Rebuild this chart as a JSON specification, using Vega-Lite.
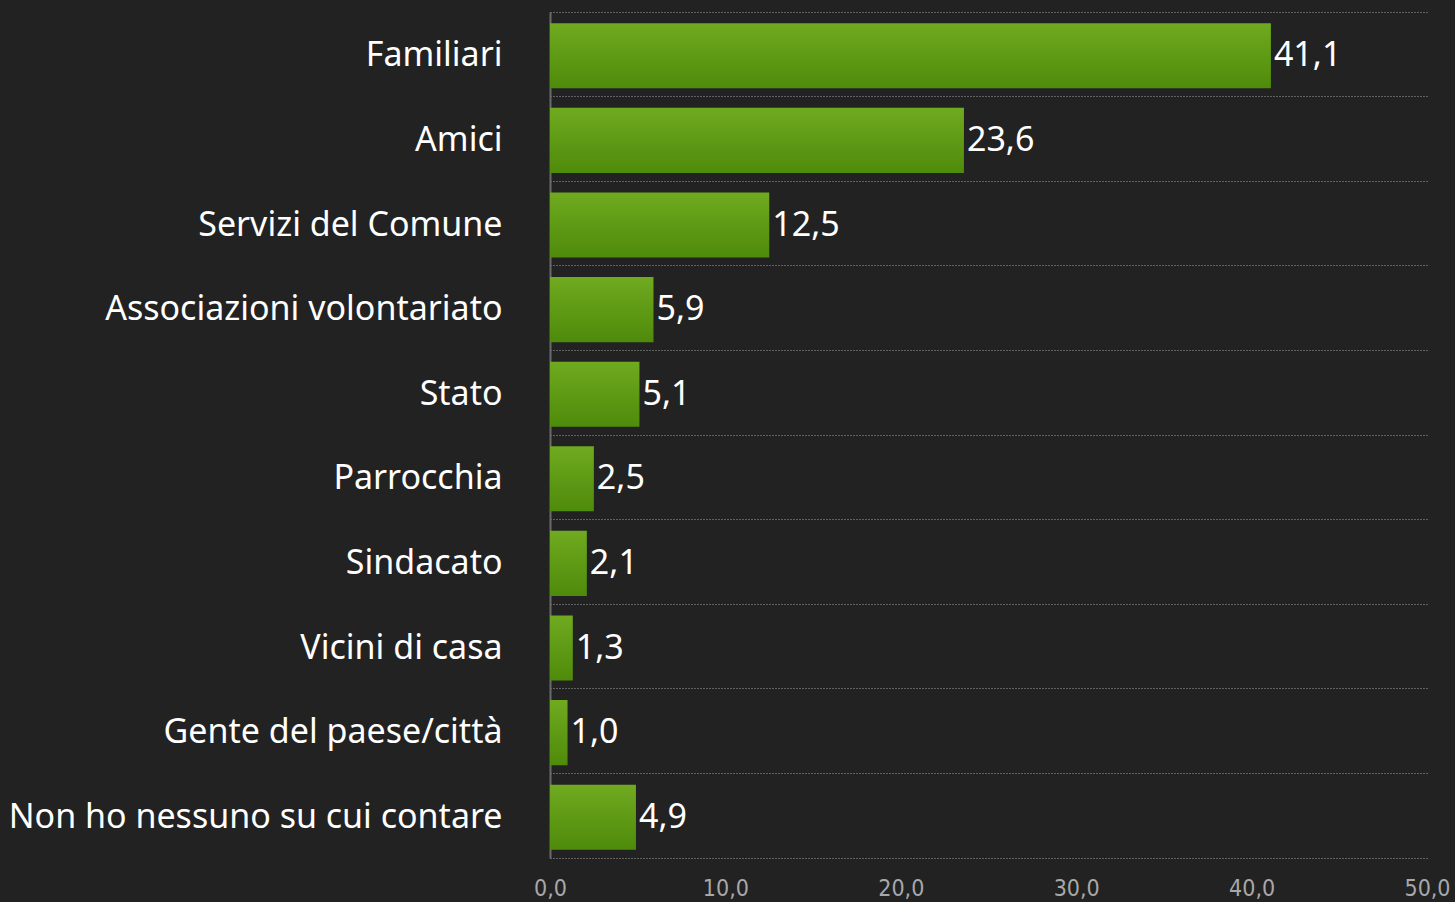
{
  "$schema": "https://vega.github.io/schema/vega-lite/v6.json",
  "autosize": "none",
  "width": 877,
  "height": 846,
  "padding": {"left": 550, "top": 12, "right": 28, "bottom": 44},
  "background": "#222222",
  "config": {
    "view": {"stroke": null},
    "locale": {"number": {"decimal": ",", "thousands": ".", "grouping": [3], "currency": ["€", ""]}}
  },
  "data": {
    "values": [
      {"cat": "Familiari", "val": 41.1},
      {"cat": "Amici", "val": 23.6},
      {"cat": "Servizi del Comune", "val": 12.5},
      {"cat": "Associazioni volontariato", "val": 5.9},
      {"cat": "Stato", "val": 5.1},
      {"cat": "Parrocchia", "val": 2.5},
      {"cat": "Sindacato ", "val": 2.1},
      {"cat": "Vicini di casa", "val": 1.3},
      {"cat": "Gente del paese/città", "val": 1.0},
      {"cat": "Non ho nessuno su cui contare", "val": 4.9}
    ]
  },
  "encoding": {
    "y": {
      "field": "cat", "type": "nominal", "sort": null, "title": null,
      "scale": {"paddingInner": 0, "paddingOuter": 0},
      "axis": {
        "bandPosition": 0,
        "grid": true, "gridColor": "#a0a0a0", "gridDash": [1, 2], "gridWidth": 1,
        "ticks": false,
        "domain": true, "domainColor": "#6a6a6a", "domainWidth": 2,
        "labelColor": "#ffffff", "labelFont": "Noto Sans", "labelFontSize": 34,
        "labelPadding": 48, "labelLimit": 600, "labelOffset": 2
      }
    },
    "x": {
      "field": "val", "type": "quantitative", "title": null,
      "scale": {"domain": [0, 50], "nice": false},
      "axis": {
        "values": [0, 10, 20, 30, 40, 50], "format": ".1f",
        "grid": false, "ticks": false,
        "domain": true, "domainColor": "#a0a0a0", "domainDash": [1, 2], "domainWidth": 1,
        "labelColor": "#a8a8a8", "labelFont": "DejaVu Sans Condensed, Roboto, sans-serif", "labelFontSize": 23,
        "labelPadding": 19, "labelFlush": false
      }
    }
  },
  "layer": [
    {
      "mark": {
        "type": "bar",
        "height": {"band": 0.77},
        "yOffset": 1.5,
        "color": {
          "gradient": "linear", "x1": 0, "y1": 0, "x2": 0, "y2": 1,
          "stops": [{"offset": 0, "color": "#70aa20"}, {"offset": 1, "color": "#4f8b0b"}]
        }
      }
    },
    {
      "mark": {"type": "text", "align": "left", "baseline": "middle", "dx": 3, "dy": 2, "fontSize": 34, "font": "Noto Sans", "color": "#ffffff"},
      "encoding": {"text": {"field": "val", "type": "quantitative", "format": ".1f"}}
    }
  ]
}
